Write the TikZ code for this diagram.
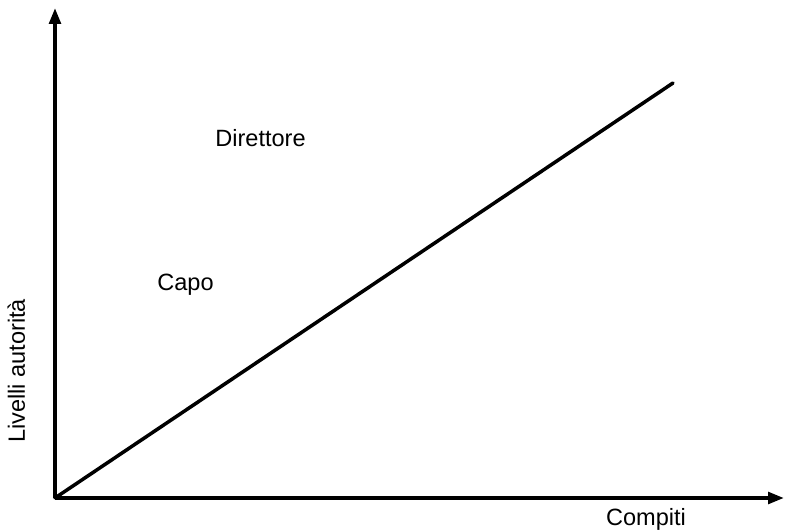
\documentclass[tikz,border=0pt]{standalone}
\usepackage{fontspec}
\setmainfont{Liberation Sans}
\usetikzlibrary{arrows.meta}

\begin{document}
\begin{tikzpicture}[
  x=0.02cm, y=-0.02cm,
  axis/.style={line width=2.1pt, -{Triangle[length=9pt, width=6.5pt]}},
  trend/.style={line width=2pt, line cap=round},
  lbl/.style={font=\fontsize{13.4}{16}\selectfont, inner sep=0pt, anchor=base}
]
\useasboundingbox (0,0) rectangle (785,530);

% Axes
\coordinate (origin) at (55,498);
\coordinate (ytip) at (55,8);
\coordinate (xtip) at (784,498);
\coordinate (top) at (673,83);

\draw[axis] (origin) -- (ytip);
\draw[axis] (origin) -- (xtip);

% Diagonal
\draw[trend] (origin) -- (top);

% Labels
\node[lbl] (dir) at (260.5,147) {Direttore};
\node[lbl] (capo) at (185.5,291) {Capo};
\node[lbl] (compiti) at (646,525) {Compiti};
\node[lbl, rotate=90] (livelli) at (25,371) {Livelli autorità};

\end{tikzpicture}
\end{document}
